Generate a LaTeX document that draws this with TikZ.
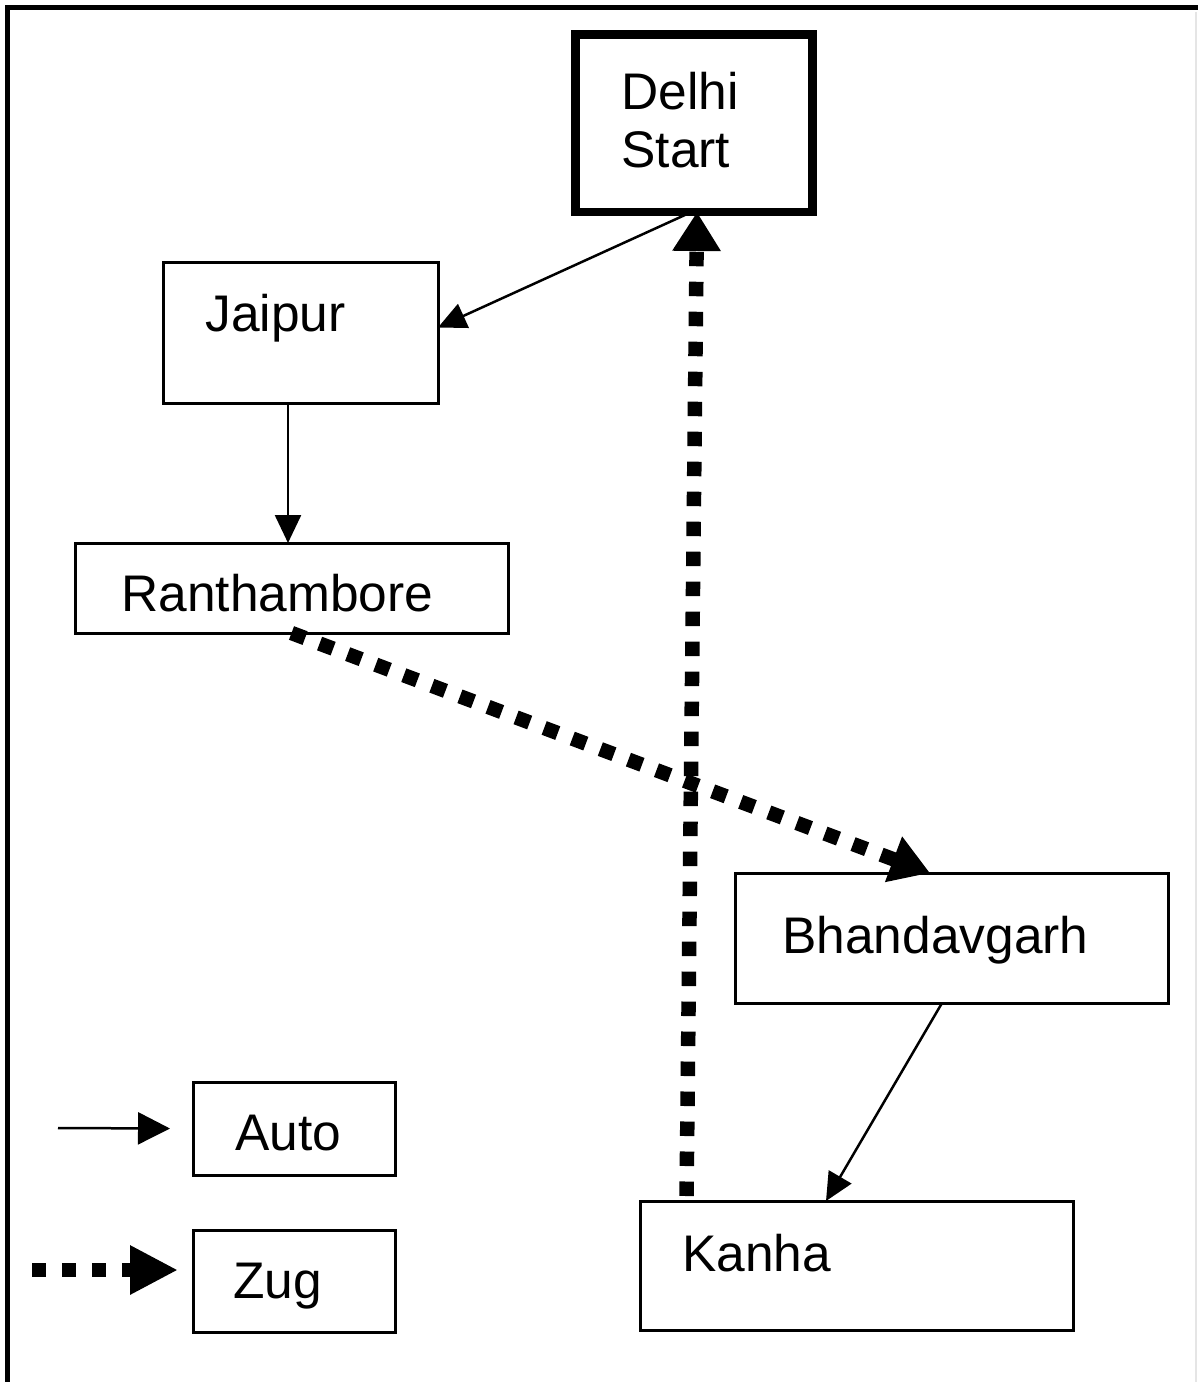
\documentclass[tikz,border=0pt]{standalone}
\usepackage{fontspec}
\setmainfont{Liberation Sans}
\usetikzlibrary{arrows.meta}
\begin{document}
\begin{tikzpicture}[x=0.02cm,y=-0.02cm,
  box/.style={draw=black,line width=0.06cm,rectangle,inner sep=0pt,outer sep=0pt},
  label text/.style={inner sep=0pt,anchor=base west,font=\fontsize{29.3}{35}\selectfont},
  autoline/.style={line width=0.05cm,-{Triangle[length=0.56cm,width=0.52cm]}},
  zugline/.style={line width=0.29cm,dash pattern=on 0.29cm off 0.31cm,line cap=butt,
     -{Triangle[length=0.78cm,width=0.92cm]}}]
\useasboundingbox (0,0) rectangle (1198,1382);
\fill[white] (0,0) rectangle (1198,1382);
% frame
\draw[line width=0.11cm] (7.5,1382) -- (7.5,7.5) -- (1198,7.5);
\draw[gray!20,line width=0.04cm] (1196,12) -- (1196,1382);
% boxes
\node[box,line width=0.18cm,minimum width=237*0.02cm,minimum height=177*0.02cm] (delhi) at (693.5,123.5) {};
\node[box,minimum width=275*0.02cm,minimum height=141*0.02cm] (jaipur) at (300.5,332.5) {};
\node[box,minimum width=433*0.02cm,minimum height=90*0.02cm] (ranth) at (291.5,588) {};
\node[box,minimum width=433*0.02cm,minimum height=130*0.02cm] (bhand) at (951.5,938) {};
\node[box,minimum width=433*0.02cm,minimum height=129*0.02cm] (kanha) at (856.5,1265.5) {};
\node[box,minimum width=202*0.02cm,minimum height=93*0.02cm] (auto) at (294,1128.5) {};
\node[box,minimum width=202*0.02cm,minimum height=102*0.02cm] (zug) at (294,1281) {};
% texts
\node[label text] (tdelhi) at (621,110) {Delhi};
\node[label text] (tstart) at (621,168) {Start};
\node[label text] (tjaipur) at (205,331) {Jaipur};
\node[label text] (tranth) at (121,611) {Ranthambore};
\node[label text] (tbhand) at (782,953) {Bhandavgarh};
\node[label text] (tkanha) at (682,1271) {Kanha};
\node[label text] (tauto) at (235,1150) {Auto};
\node[label text] (tzug) at (233,1298) {Zug};
% connectors
\draw[autoline] ([xshift=-0.04cm]delhi.south) -- ([yshift=0.1cm]jaipur.east);
\draw[autoline] ([xshift=-0.25cm]jaipur.south) -- ([xshift=-0.25cm]jaipur.south |- ranth.north);
\draw[zugline] (ranth.south) -- ([xshift=-0.43cm]bhand.north);
\draw[zugline] ([xshift=-3.4cm,yshift=0.1cm]kanha.north) -- ([xshift=0.07cm]delhi.south);
\draw[autoline] ([xshift=-0.19cm]bhand.south) -- ([xshift=-0.61cm]kanha.north);
% legend
\coordinate (a1) at (58,1128);
\coordinate (z1) at (32,1270);
\coordinate (z2) at (178,1270);
\draw[autoline,-{Triangle[length=0.64cm,width=0.64cm]}] (a1) -- ([xshift=-0.46cm]auto.west);
\draw[zugline,-{Triangle[length=0.96cm,width=0.92cm]}] (z1) -- (z2);
\end{tikzpicture}
\end{document}
